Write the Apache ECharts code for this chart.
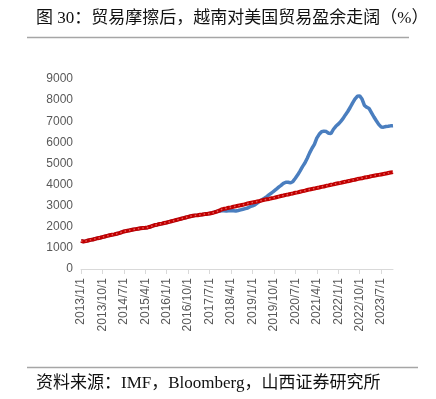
<!DOCTYPE html>
<html>
<head>
<meta charset="utf-8">
<script src="https://cdn.jsdelivr.net/npm/echarts@6/dist/echarts.min.js"></script>
<style>
  html, body { margin: 0; padding: 0; background: #fff; }
  #main { width: 436px; height: 399px; }
</style>
</head>
<body>
<div id="main"></div>
<script>
    // monthly, 2013/1 .. 2023/12
    var startYear = 2013;
    var months = [];
    for (var i = 0; i < 132; i++) {
        var y = startYear + Math.floor(i / 12);
        var m = (i % 12) + 1;
        months.push(y + '/' + m + '/1');
    }

    // pre trade-war trend (red)
    var trend = [
        1330, 1300, 1320, 1350, 1380, 1400, 1430, 1460, 1480, 1510, 1540, 1570,
        1600, 1620, 1640, 1670, 1700, 1740, 1780, 1800, 1820, 1850, 1870, 1890,
        1910, 1930, 1940, 1950, 1970, 2000, 2040, 2080, 2100, 2130, 2150, 2180,
        2200, 2230, 2260, 2290, 2320, 2350, 2380, 2410, 2440, 2470, 2500, 2520,
        2540, 2550, 2570, 2580, 2600, 2610, 2630, 2650, 2680, 2720, 2760, 2820,
        2850, 2870, 2900, 2920, 2950, 2970, 3000, 3020, 3040, 3070, 3100, 3130,
        3150, 3170, 3200, 3220, 3250, 3280, 3300, 3320, 3350, 3370, 3400, 3430,
        3460, 3480, 3510, 3530, 3560, 3580, 3610, 3630, 3660, 3690, 3710, 3740,
        3770, 3790, 3810, 3840, 3860, 3890, 3910, 3940, 3960, 3990, 4010, 4040,
        4060, 4080, 4110, 4130, 4160, 4180, 4210, 4230, 4260, 4280, 4300, 4330,
        4350, 4370, 4400, 4420, 4440, 4460, 4480, 4500, 4520, 4550, 4570, 4590
    ];

    // actual surplus (blue)
    var actual = [
        1330, 1300, 1320, 1350, 1380, 1400, 1430, 1460, 1480, 1510, 1540, 1570,
        1600, 1620, 1640, 1670, 1700, 1740, 1780, 1800, 1820, 1850, 1870, 1890,
        1910, 1930, 1940, 1950, 1970, 2000, 2040, 2080, 2100, 2130, 2150, 2180,
        2200, 2230, 2260, 2290, 2320, 2350, 2380, 2410, 2440, 2470, 2500, 2520,
        2540, 2550, 2570, 2580, 2600, 2610, 2630, 2650, 2700, 2720, 2740, 2760,
        2760, 2750, 2760, 2770, 2760, 2750, 2770, 2800, 2830, 2860, 2890, 2950,
        2990, 3040, 3120, 3200, 3280, 3350, 3430, 3520, 3600, 3690, 3780, 3880,
        3960, 4060, 4110, 4110, 4080, 4150, 4300, 4460, 4650, 4850, 5020, 5250,
        5500, 5720, 5900, 6200, 6380, 6500, 6530, 6510, 6430, 6420, 6620, 6760,
        6860, 6980, 7120, 7300, 7460, 7650, 7860, 8050, 8180, 8200, 8050, 7750,
        7660, 7600, 7400, 7200, 7020, 6850, 6730, 6720, 6750, 6760, 6780, 6790
    ];

    var yMax = 9000;
    var yStep = 1000;

    var chart = echarts.init(document.getElementById('main'));
    var option = {
        backgroundColor: '#fff',
        animation: false,
        graphic: [
            {
                type: 'text', left: 36, top: 10,
                style: {
                    text: '图 30：贸易摩擦后，越南对美国贸易盈余走阔（%）',
                    font: '17px "Liberation Serif", "Noto Sans CJK SC"',
                    fill: '#111'
                }
            },
            {
                type: 'line',
                shape: { x1: 27, y1: 37.5, x2: 409, y2: 37.5 },
                style: { stroke: '#a6a6a6', lineWidth: 1.6 }
            },
            {
                type: 'line',
                shape: { x1: 27, y1: 367.5, x2: 418, y2: 367.5 },
                style: { stroke: '#a6a6a6', lineWidth: 1.6 }
            },
            {
                type: 'text', left: 36, top: 375,
                style: {
                    text: '资料来源：IMF，Bloomberg，山西证券研究所',
                    font: '17px "Liberation Serif", "Noto Sans CJK SC"',
                    fill: '#111'
                }
            }
        ],
        grid: { left: 81, right: 43, top: 79, bottom: 130, containLabel: false },
        xAxis: {
            type: 'category',
            data: months,
            boundaryGap: false,
            axisLine: { lineStyle: { color: '#d9d9d9', width: 1 } },
            axisTick: { interval: 8, length: 5, lineStyle: { color: '#d9d9d9' } },
            axisLabel: {
                interval: 8,
                rotate: 90,
                margin: 9,
                color: '#595959',
                fontSize: 12,
                fontFamily: 'Liberation Sans'
            },
            splitLine: { show: false }
        },
        yAxis: {
            type: 'value',
            min: 0,
            max: yMax,
            interval: yStep,
            axisLine: { show: false },
            axisTick: { show: false },
            axisLabel: {
                color: '#595959', fontSize: 12, margin: 8, fontFamily: 'Liberation Sans',
                formatter: function (v) { return String(v); }
            },
            splitLine: { show: false }
        },
        series: [
            {
                name: 'actual',
                type: 'line',
                data: actual,
                showSymbol: false,
                lineStyle: { color: '#4a7ebf', width: 3.5 },
                z: 2
            },
            {
                name: 'trend',
                type: 'line',
                data: trend,
                showSymbol: false,
                lineStyle: { color: '#c00000', width: 4 },
                z: 3
            },
            {
                name: 'trend-dots',
                type: 'line',
                data: trend,
                showSymbol: false,
                lineStyle: { color: '#e85a5a', width: 1.5, type: [1.5, 3] },
                z: 4
            }
        ]
    };
    chart.setOption(option);
</script>
</body>
</html>
